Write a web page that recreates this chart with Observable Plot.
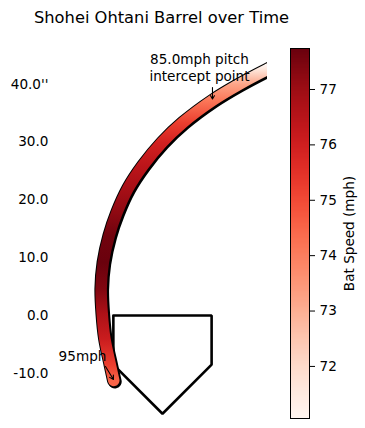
<!DOCTYPE html>
<html><head><meta charset="utf-8">
<script src="https://cdn.jsdelivr.net/npm/d3@7"></script>
<script src="https://cdn.jsdelivr.net/npm/@observablehq/plot@0.6"></script>
<style>
body{margin:0;background:#fff;}
#chart{position:relative;width:365px;height:428px;font-family:"DejaVu Sans",sans-serif;}
#chart svg{position:absolute;top:0;}
</style></head><body><div id="chart"></div>
<script>
const title = "Shohei Ohtani Barrel over Time";
// Barrel path (inches) and bat speed (mph)
const pathX = [-8.43, -9.00, -9.98, -10.43, -10.61, -10.24, -9.22, -7.87, -5.97, -3.37, -0.09, 3.55, 8.65, 13.23, 18.11, 19.55];
const pathY = [-11.25, -8.65, -3.98, 0.35, 4.67, 9.17, 13.84, 17.82, 21.97, 25.95, 29.93, 33.39, 37.20, 39.97, 42.56, 43.25];
const batSpeed = [74.5, 75.2, 76.1, 76.7, 77.4, 77.7, 77.6, 77.2, 76.8, 76.4, 75.9, 75.2, 74.1, 73.2, 71.6, 71.1];
// Home plate
const plateX = [-8.5, 8.5, 8.5, 0, -8.5, -8.5];
const plateY = [0, 0, -8.5, -17, -8.5, 0];
// Axis
const yTicks = [-10, 0, 10, 20, 30, 40];
const yTickLabels = ["-10.0", "0.0", "10.0", "20.0", "30.0", "40.0''"];
// Annotations
const annText = ["85.0mph pitch\nintercept point", "95mph"];
const annX = [6.4, -13.84];
const annY = [40.5, -7.96];
const arrowX1 = [8.65, -9.86];
const arrowY1 = [39.45, -8.82];
const arrowX2 = [8.65, -8.48];
const arrowY2 = [37.46, -11.07];
// Colorbar
const speedDomain = [71.06, 77.74];
const cbTicks = [72, 73, 74, 75, 76, 77];
const cbLabel = "Bat Speed (mph)";

const pts = pathX.map((x, i) => ({x, y: pathY[i], s: batSpeed[i]}));
const plate = plateX.map((x, i) => ({x, y: plateY[i]}));
const ann = annText.map((t, i) => ({t, x: annX[i], y: annY[i], x1: arrowX1[i], y1: arrowY1[i], x2: arrowX2[i], y2: arrowY2[i]}));
const color = {type: "linear", scheme: "reds", domain: speedDomain};
const font = {fontFamily: "DejaVu Sans", fontSize: "13.6px", background: "transparent", color: "black"};
const lineOpts = {x: "x", y: "y", curve: "catmull-rom", strokeLinecap: "round", strokeLinejoin: "round", clip: true};

const main = Plot.plot({
  width: 365, height: 428,
  marginLeft: 55, marginRight: 98, marginTop: 40, marginBottom: 8,
  x: {domain: [-18.51, 18.17], axis: null},
  y: {domain: [-18.17, 47.58]},
  color,
  style: font,
  marks: [
    Plot.axisY(yTicks, {tickSize: 0, tickPadding: 7, label: null, fontSize: 13.6, tickFormat: d => yTickLabels[yTicks.indexOf(d)]}),
    Plot.line(plate, {x: "x", y: "y", stroke: "black", strokeWidth: 2.6, strokeLinejoin: "miter"}),
    Plot.line(pts, {...lineOpts, stroke: "black", strokeWidth: 13.5, dx: 1.2, dy: 1.2}),
    Plot.line(pts, {...lineOpts, stroke: "black", strokeWidth: 13.5}),
    Plot.line(pts, {...lineOpts, stroke: "url(#barrelGrad)", strokeWidth: 11.5}),
    Plot.arrow(ann, {x1: "x1", y1: "y1", x2: "x2", y2: "y2", stroke: "black", strokeWidth: 1.1, headLength: 6, headAngle: 60}),
    Plot.text(ann, {x: "x", y: "y", text: "t", lineAnchor: "bottom", lineHeight: 1.25, fontSize: 13.6, fill: "black"}),
    Plot.text([title], {text: d => d, frameAnchor: "top", dy: -18, lineAnchor: "bottom", fontSize: 16.3, fill: "black"})
  ]
});

// Gradient along the barrel, built from the plot's own y and color scales (path is monotonic in y)
const ys = main.scale("y"), cs = main.scale("color");
const yTop = ys.apply(pathY[pathY.length - 1]), yBot = ys.apply(pathY[0]);
const grad = d3.select(main).insert("defs", ":first-child").append("linearGradient")
  .attr("id", "barrelGrad").attr("gradientUnits", "userSpaceOnUse")
  .attr("x1", 0).attr("x2", 0).attr("y1", yBot).attr("y2", yTop);
pts.forEach(p => {
  grad.append("stop")
    .attr("offset", (ys.apply(p.y) - yBot) / (yTop - yBot))
    .attr("stop-color", cs.apply(p.s));
});

const step = (speedDomain[1] - speedDomain[0]) / 300;
const cbStops = d3.range(300).map(i => speedDomain[0] + i * step);
const cb = Plot.plot({
  width: 85, height: 428,
  marginLeft: 10, marginRight: 56, marginTop: 48, marginBottom: 10,
  y: {domain: speedDomain},
  color,
  style: font,
  marks: [
    Plot.rect(cbStops, {y1: d => d, y2: d => d + step * 1.01, fill: d => d, shapeRendering: "crispEdges"}),
    Plot.frame({stroke: "black", strokeWidth: 1}),
    Plot.axisY(cbTicks, {anchor: "right", tickSize: 5, tickPadding: 5, label: null, fontSize: 13.6, tickFormat: d => String(d)}),
    Plot.text([cbLabel], {text: d => d, frameAnchor: "right", dx: 40, rotate: -90, textAnchor: "middle", fontSize: 13.6, fill: "black"})
  ]
});
cb.style.left = "280px";
const el = document.getElementById("chart");
el.appendChild(main);
el.appendChild(cb);
</script></body></html>
